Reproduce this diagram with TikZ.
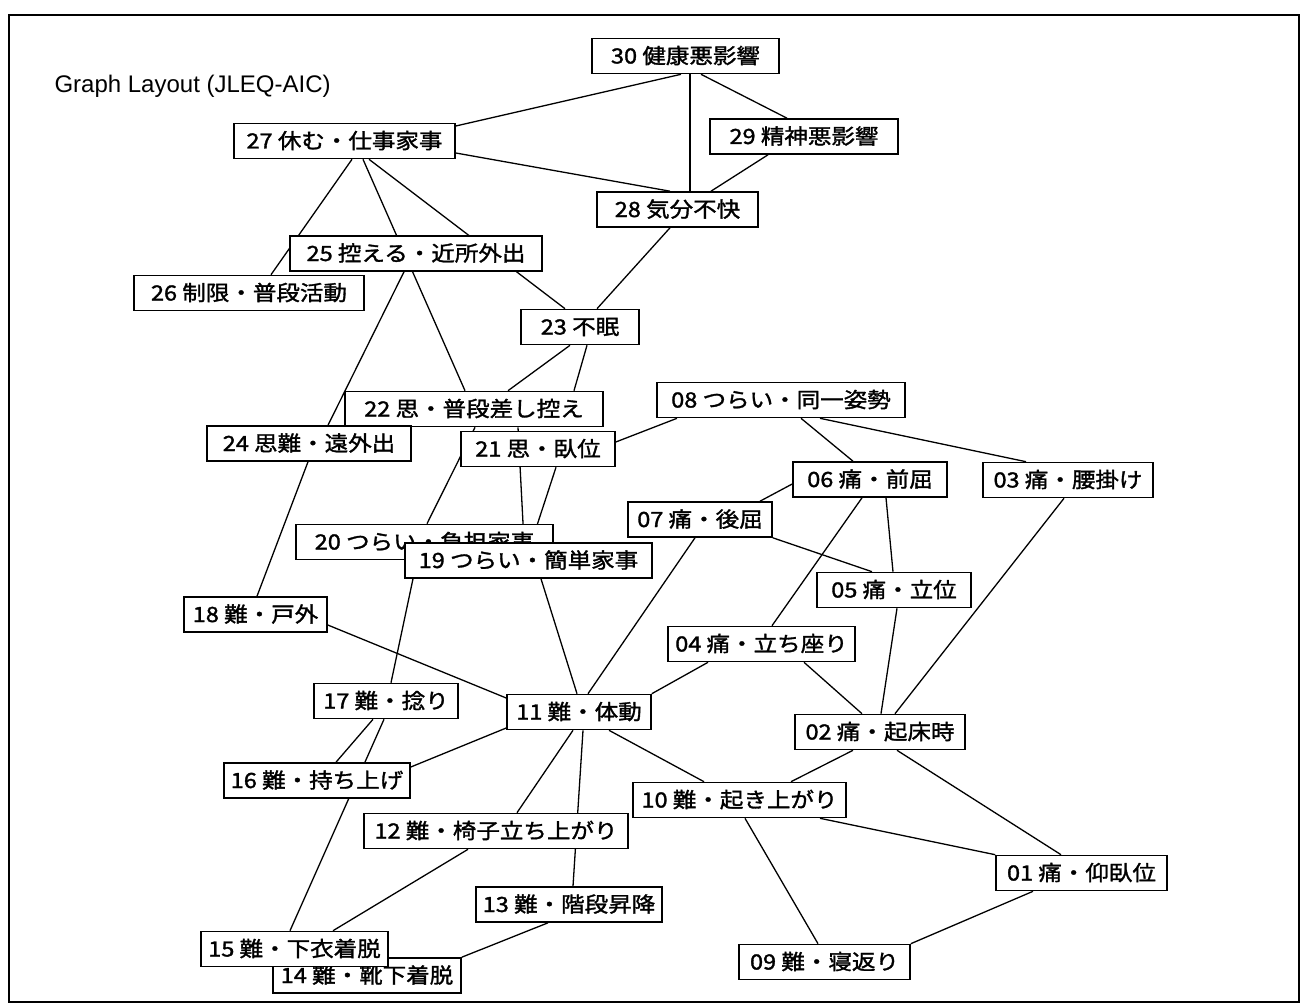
\documentclass[tikz,border=0pt]{standalone}
\usepackage{fontspec}
\setmainfont{Liberation Sans}
\newfontfamily\jpfont[FakeStretch=1.12, FakeBold=1.5]{Noto Sans CJK JP}
\usetikzlibrary{backgrounds}

\begin{document}
\begin{tikzpicture}[
    x=1pt, y=-1pt,
    item/.style={rectangle, draw=black, fill=white, line width=1.6pt, inner xsep=2pt, inner ysep=4pt, text height=21pt, text depth=6pt, minimum height=35pt, font=\jpfont\fontsize{21}{25}\selectfont},
    link/.style={line width=1.3pt},
    caption/.style={anchor=base west, font=\fontsize{24}{28}\selectfont}
]
\useasboundingbox (0,0) rectangle (1301,1006);

% Title
\node[caption] (title) at (51,93) {Graph Layout (JLEQ-AIC)};

% Items
\node[item, minimum width=187pt] (q30) at (685.5,56) {30 健康悪影響};
\node[item, minimum width=188pt] (q29) at (804,136.5) {29 精神悪影響};
\node[item, minimum width=221pt] (q27) at (344.5,141) {27 休む・仕事家事};
\node[item, minimum width=161pt] (q28) at (677.5,209.5) {28 気分不快};
\node[item, minimum width=252pt] (q25) at (416,253.5) {25 控える・近所外出};
\node[item, minimum width=230pt] (q26) at (249,293) {26 制限・普段活動};
\node[item, minimum width=118pt] (q23) at (580,327) {23 不眠};
\node[item, minimum width=258pt] (q22) at (474,409) {22 思・普段差し控え};
\node[item, minimum width=204pt] (q24) at (309,443.5) {24 思難・遠外出};
\node[item, minimum width=154pt] (q21) at (538,449) {21 思・臥位};
\node[item, minimum width=248pt] (q08) at (781,400) {08 つらい・同一姿勢};
\node[item, minimum width=154pt] (q06) at (870,479.5) {06 痛・前屈};
\node[item, minimum width=170pt] (q03) at (1068,480) {03 痛・腰掛け};
\node[item, minimum width=144pt] (q07) at (700,519.5) {07 痛・後屈};
\node[item, minimum width=257pt] (q20) at (424.5,542) {20 つらい・負担家事};
\node[item, minimum width=247pt] (q19) at (528.5,560.5) {19 つらい・簡単家事};
\node[item, minimum width=154pt] (q05) at (894,590) {05 痛・立位};
\node[item, minimum width=143pt] (q18) at (255.5,614.5) {18 難・戸外};
\node[item, minimum width=187pt] (q04) at (761.5,644) {04 痛・立ち座り};
\node[item, minimum width=144pt] (q17) at (386,701) {17 難・捻り};
\node[item, minimum width=144pt] (q11) at (579,712) {11 難・体動};
\node[item, minimum width=170pt] (q02) at (880,732) {02 痛・起床時};
\node[item, minimum width=186pt] (q16) at (317,780.5) {16 難・持ち上げ};
\node[item, minimum width=213pt] (q10) at (739.5,800) {10 難・起き上がり};
\node[item, minimum width=264pt] (q12) at (496,831) {12 難・椅子立ち上がり};
\node[item, minimum width=171pt] (q01) at (1081.5,873) {01 痛・仰臥位};
\node[item, minimum width=186pt] (q13) at (569,904.5) {13 難・階段昇降};
\node[item, minimum width=188pt] (q14) at (367,975.5) {14 難・靴下着脱};
\node[item, minimum width=187pt] (q15) at (294.5,949) {15 難・下衣着脱};
\node[item, minimum width=171pt] (q09) at (824.5,962) {09 難・寝返り};

\begin{scope}[on background layer]
% Frame
\draw[line width=1.5pt] (9,15) rectangle (1299,1002);

% Links, upper part
\draw[link] ([yshift=15]q27.east) -- ([xshift=-4.5]q30.south);
\draw[link] ([xshift=4.5]q30.south) -- ([xshift=12.5]q28.north);
\draw[link] ([xshift=15.5]q30.south) -- ([xshift=-17]q29.north);
\draw[link] ([xshift=-36]q29.south) -- ([xshift=33.5]q28.north);
\draw[link] ([yshift=-12]q27.east) -- ([xshift=-7.5]q28.north);
\draw[link] ([xshift=7.5]q27.south) -- ([xshift=22]q26.north);
\draw[link] ([xshift=18.5]q27.south) -- ([xshift=-9]q22.north);
\draw[link] ([xshift=24.5]q27.south) -- ([xshift=-15]q23.north);
\draw[link] ([xshift=-7.5]q28.south) -- ([xshift=17]q23.north);
\draw[link] ([xshift=-12]q25.south) -- ([xshift=19]q24.north);
\draw[link] ([xshift=-1]q24.south) -- ([xshift=1.5]q18.north);
\draw[link] ([xshift=-10]q23.south) -- ([xshift=34]q22.north);
\draw[link] ([xshift=7]q23.south) -- ([xshift=100]q22.north);
\draw[link] ([xshift=1]q22.south) -- ([xshift=2.5]q20.north);
\draw[link] ([xshift=44]q22.south) -- ([xshift=-4.5]q19.north);
\draw[link] ([xshift=18]q21.south) -- ([xshift=3]q19.north);
\draw[link] ([yshift=7]q21.east) -- ([xshift=-104]q08.south);

% Links, right part
\draw[link] ([xshift=20]q08.south) -- ([xshift=-17]q06.north);
\draw[link] ([xshift=39]q08.south) -- ([xshift=-42]q03.north);
\draw[link] ([yshift=-4.5]q06.west) -- ([xshift=60]q07.north);
\draw[link] ([xshift=-8]q06.south) -- ([xshift=10.5]q04.north);
\draw[link] ([xshift=16]q06.south) -- ([xshift=-1]q05.north);
\draw[link] ([xshift=-4]q03.south) -- ([xshift=15]q02.north);
\draw[link] ([xshift=-5]q07.south) -- ([xshift=9]q11.north);
\draw[link] (q07.south east) -- ([xshift=-22]q05.north);
\draw[link] ([xshift=3]q05.south) -- ([xshift=1]q02.north);
\draw[link] ([xshift=-53.5]q04.south) -- (q11.north east);
\draw[link] ([xshift=42.5]q04.south) -- ([xshift=-18]q02.north);

% Links, lower part
\draw[link] ([xshift=12.5]q19.south) -- ([xshift=-2]q11.north);
\draw[link] ([xshift=-115.5]q19.south) -- ([xshift=5]q17.north);
\draw[link] ([yshift=-10.5]q18.east) -- ([yshift=14]q11.west);
\draw[link] ([xshift=-13]q17.south) -- ([xshift=19]q16.north);
\draw[link] ([xshift=-2]q17.south) -- ([xshift=-4.5]q15.north);
\draw[link] ([yshift=13.5]q16.east) -- ([yshift=-16]q11.west);
\draw[link] ([xshift=-6]q11.south) -- ([xshift=21]q12.north);
\draw[link] ([xshift=4]q11.south) -- ([xshift=4]q13.north);
\draw[link] ([xshift=30]q11.south) -- ([xshift=-35.5]q10.north);
\draw[link] ([xshift=-28]q12.south) -- ([xshift=38.5]q15.north);
\draw[link] ([xshift=-21]q13.south) -- (q14.north east);
\draw[link] ([xshift=-27]q02.south) -- ([xshift=51.5]q10.north);
\draw[link] ([xshift=17]q02.south) -- ([xshift=-20.5]q01.north);
\draw[link] ([xshift=80.5]q10.south) -- (q01.north west);
\draw[link] ([xshift=5.5]q10.south) -- ([xshift=-6.5]q09.north);
\draw[link] ([xshift=-48.5]q01.south) -- (q09.north east);
\end{scope}

\end{tikzpicture}
\end{document}
